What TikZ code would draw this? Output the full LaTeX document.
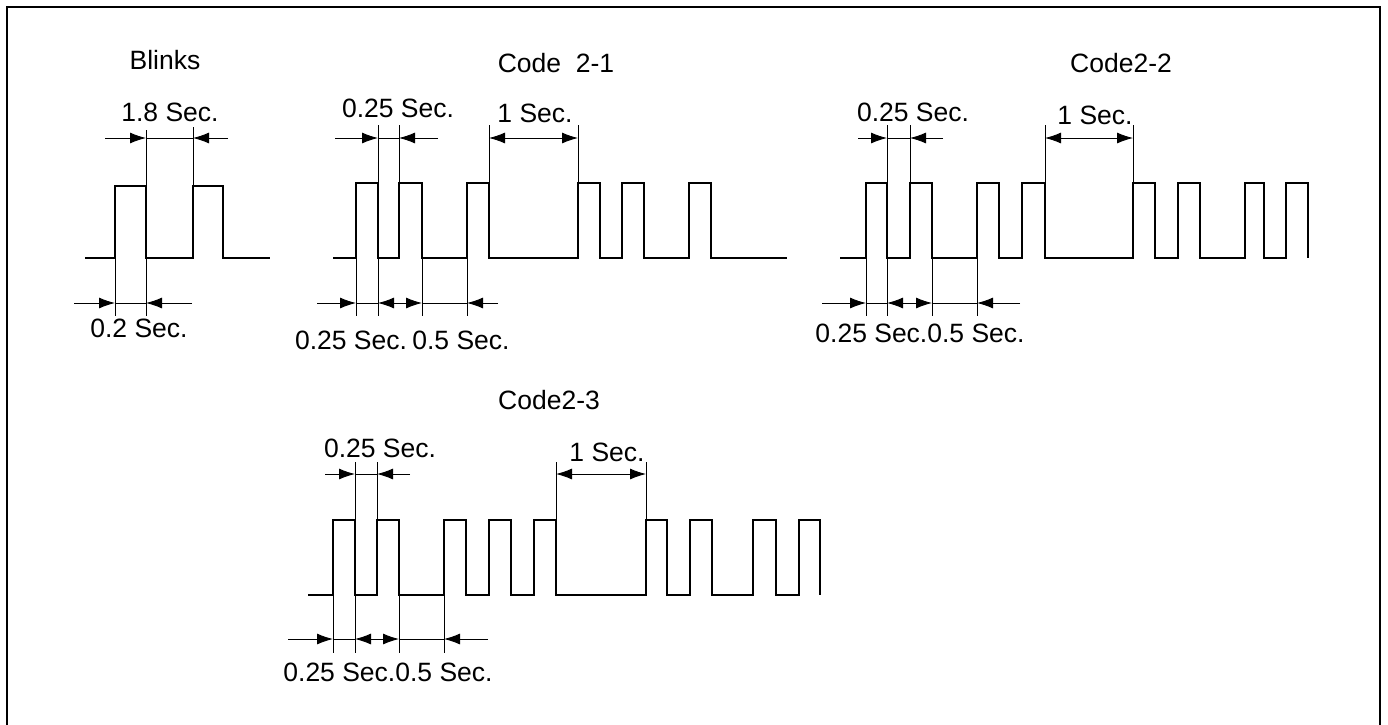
\documentclass[tikz,border=0pt]{standalone}
\usepackage{fontspec}
\setmainfont{Liberation Sans}
\usetikzlibrary{arrows.meta}
\tikzset{
  wave/.style={line width=1.1pt},
  ext/.style={line width=0.9pt},
  dim/.style={line width=0.9pt},
  ah/.tip={Latex[length=16pt,width=11pt]},
  tip/.style={-ah},
  tips/.style={ah-ah},
  lbl/.style={inner sep=0pt,font=\fontsize{26.5}{30}\selectfont},
  frame/.style={line width=2.2pt}
}
\begin{document}
\begin{tikzpicture}[x=1pt,y=-1pt]
\useasboundingbox (0,0) rectangle (1388,724);
\draw[frame] (7,760) -- (7,7) -- (1380,7) -- (1380,760);

% ---------- Blinks ----------
\node[lbl] (tb) at (165,60) {Blinks};
\node[lbl] (b18) at (170,112) {1.8 Sec.};
\node[lbl] (b02) at (139,328) {0.2 Sec.};
\draw[wave] (85,258) -- (115,258) -- (115,186) -- (146,186) -- (146,258) -- (193,258) -- (193,186) -- (223,186) -- (223,258) -- (270,258);
\draw[ext] (115,258) -- (115,316);
\draw[ext] (146,130) -- (146,316);
\draw[ext] (193,127) -- (193,186);
\draw[dim,tip] (105,138) -- (146,138);
\draw[dim] (146,138) -- (193,138);
\draw[dim,tip] (228,138) -- (193,138);
\draw[dim,tip] (74,303) -- (115,303);
\draw[dim] (115,303) -- (146,303);
\draw[dim,tip] (192,303) -- (146,303);

% ---------- Code 2-1 ----------
\node[lbl] (t21) at (556,63) {Code\ \ 2-1};
\node[lbl] at (398,108) {0.25 Sec.};
\node[lbl] at (535,113) {1 Sec.};
\node[lbl] at (351,340) {0.25 Sec.};
\node[lbl] at (461,340) {0.5 Sec.};
\draw[wave] (333,258) -- (356,258) -- (356,183) -- (378,183) -- (378,258) -- (399,258) -- (399,183) -- (422,183) -- (422,258)
  -- (467,258) -- (467,183) -- (489,183) -- (489,258) -- (578,258) -- (578,183) -- (600,183) -- (600,258)
  -- (622,258) -- (622,183) -- (644,183) -- (644,258) -- (689,258) -- (689,183) -- (711,183) -- (711,258) -- (787,258);
\draw[ext] (356,258) -- (356,316);
\draw[ext] (378,125) -- (378,316);
\draw[ext] (399,125) -- (399,183);
\draw[ext] (422,258) -- (422,316);
\draw[ext] (467,258) -- (467,316);
\draw[ext] (489,125) -- (489,183);
\draw[ext] (578,125) -- (578,183);
\draw[dim,tip] (335,138) -- (378,138);
\draw[dim] (378,138) -- (399,138);
\draw[dim,tip] (438,138) -- (399,138);
\draw[dim,tips] (489,138) -- (578,138);
\draw[dim,tip] (317,303) -- (356,303);
\draw[dim] (356,303) -- (378,303);
\draw[dim,tips] (378,303) -- (422,303);
\draw[dim] (422,303) -- (467,303);
\draw[dim,tip] (498,303) -- (467,303);

% ---------- Code2-2 ----------
\node[lbl] (t22) at (1121,63) {Code2-2};
\node[lbl] at (913,112) {0.25 Sec.};
\node[lbl] at (1095,115) {1 Sec.};
\node[lbl] at (920,333) {0.25 Sec.0.5 Sec.};
\draw[wave] (840,258) -- (866,258) -- (866,183) -- (887,183) -- (887,258) -- (910,258) -- (910,183) -- (932,183) -- (932,258)
  -- (977,258) -- (977,183) -- (999,183) -- (999,258) -- (1022,258) -- (1022,183) -- (1045,183) -- (1045,258)
  -- (1133,258) -- (1133,183) -- (1155,183) -- (1155,258) -- (1178,258) -- (1178,183) -- (1200,183) -- (1200,258)
  -- (1245,258) -- (1245,183) -- (1264,183) -- (1264,258) -- (1286,258) -- (1286,183) -- (1308,183) -- (1308,258);
\draw[ext] (866,258) -- (866,316);
\draw[ext] (887,125) -- (887,316);
\draw[ext] (910,125) -- (910,183);
\draw[ext] (932,258) -- (932,316);
\draw[ext] (977,258) -- (977,316);
\draw[ext] (1045,125) -- (1045,183);
\draw[ext] (1133,125) -- (1133,183);
\draw[dim,tip] (858,138) -- (887,138);
\draw[dim] (887,138) -- (910,138);
\draw[dim,tip] (943,138) -- (910,138);
\draw[dim,tips] (1045,138) -- (1133,138);
\draw[dim,tip] (822,303) -- (866,303);
\draw[dim] (866,303) -- (887,303);
\draw[dim,tips] (887,303) -- (932,303);
\draw[dim] (932,303) -- (977,303);
\draw[dim,tip] (1020,303) -- (977,303);

% ---------- Code2-3 ----------
\node[lbl] (t23) at (549,400) {Code2-3};
\node[lbl] at (380,448) {0.25 Sec.};
\node[lbl] at (607,452) {1 Sec.};
\node[lbl] at (388,672) {0.25 Sec.0.5 Sec.};
\draw[wave] (308,595) -- (333,595) -- (333,520) -- (355,520) -- (355,595) -- (377,595) -- (377,520) -- (399,520) -- (399,595)
  -- (444,595) -- (444,520) -- (466,520) -- (466,595) -- (489,595) -- (489,520) -- (511,520) -- (511,595)
  -- (534,595) -- (534,520) -- (556,520) -- (556,595) -- (646,595) -- (646,520) -- (667,520) -- (667,595)
  -- (690,595) -- (690,520) -- (712,520) -- (712,595) -- (753,595) -- (753,520) -- (776,520) -- (776,595)
  -- (799,595) -- (799,520) -- (820,520) -- (820,595);
\draw[ext] (333,595) -- (333,653);
\draw[ext] (355,462) -- (355,653);
\draw[ext] (377,462) -- (377,520);
\draw[ext] (399,595) -- (399,653);
\draw[ext] (444,595) -- (444,653);
\draw[ext] (556,462) -- (556,520);
\draw[ext] (646,462) -- (646,520);
\draw[dim,tip] (325,474) -- (355,474);
\draw[dim] (355,474) -- (377,474);
\draw[dim,tip] (410,474) -- (377,474);
\draw[dim,tips] (556,474) -- (646,474);
\draw[dim,tip] (288,639) -- (333,639);
\draw[dim] (333,639) -- (355,639);
\draw[dim,tips] (355,639) -- (399,639);
\draw[dim] (399,639) -- (444,639);
\draw[dim,tip] (488,639) -- (444,639);
\end{tikzpicture}
\end{document}
